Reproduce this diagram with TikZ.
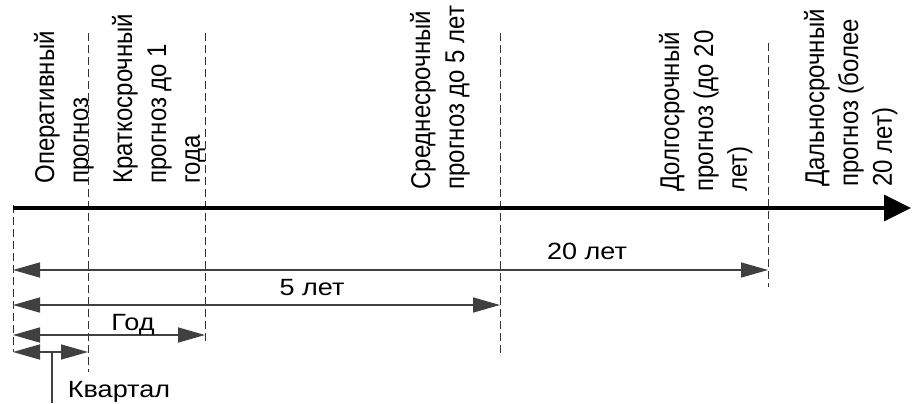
\documentclass[tikz,border=0pt]{standalone}
\usepackage{fontspec}
\setmainfont{Liberation Sans}
\usetikzlibrary{arrows.meta}
% wide lettering: labels are stretched across the picture's horizontal
\newcommand{\widetag}[1]{\scalebox{1.15}[1]{#1}}
\newcommand{\widekind}[1]{\scalebox{1}[1.13]{\begin{tabular}{@{}l@{}}#1\end{tabular}}}
\begin{document}
\begin{tikzpicture}[x=0.5pt,y=-0.5pt,
  guide/.style={draw=black!80,line width=0.5pt,dash pattern=on 4pt off 2pt},
  axisline/.style={draw=black,line width=1.7pt,-{Triangle[length=13.5pt,width=13pt]}},
  span/.style={draw=black!75,line width=0.8pt,
    {Triangle[length=13.5pt,width=7.5pt]}-{Triangle[length=13.5pt,width=7.5pt]}},
  kind/.style={rotate=90,anchor=north west,inner sep=0pt,
    font=\fontsize{12}{15}\selectfont},
  tag/.style={inner sep=0pt,anchor=base,font=\fontsize{11.75}{14}\selectfont}]
\useasboundingbox (0,0) rectangle (912,403);

% vertical guides
\coordinate (g0t) at (13,205);  \coordinate (g0b) at (13,352);
\coordinate (g1t) at (88,33);   \coordinate (g1b) at (88,372);
\coordinate (g2t) at (205,33);  \coordinate (g2b) at (205,342);
\coordinate (g3t) at (500,33);  \coordinate (g3b) at (500,355);
\coordinate (g4t) at (768,43);  \coordinate (g4b) at (768,287);
\foreach \g in {0,...,4} \draw[guide] (g\g t) -- (g\g b);

% time axis
\coordinate (ax0) at (13,208);
\coordinate (ax1) at (911,208);
\draw[axisline] (ax0) -- (ax1);

% forecast kinds
\node[kind] (k1) at (30,184) {\widekind{Оперативный\\прогноз}};
\node[kind] (k2) at (108,184) {\widekind{Краткосрочный\\прогноз до 1\\года}};
\node[kind] (k3) at (406,190) {\widekind{Среднесрочный\\прогноз до 5 лет}};
\node[kind] (k4) at (655,192) {\widekind{Долгосрочный\\прогноз (до 20\\лет)}};
\node[kind] (k5) at (800,187) {\widekind{Дальносрочный\\прогноз (более\\20 лет)}};

% horizons
\coordinate (a20l) at (13,270);  \coordinate (a20r) at (768,270);
\coordinate (a5l) at (13,305);   \coordinate (a5r) at (500,305);
\coordinate (a1l) at (13,335);   \coordinate (a1r) at (205,335);
\coordinate (aql) at (13,352);   \coordinate (aqr) at (88,352);
\draw[span] (a20l) -- (a20r);
\draw[span] (a5l) -- (a5r);
\draw[span] (a1l) -- (a1r);
\draw[span] (aql) -- (aqr);

\node[tag] (t20) at (587,259) {\widetag{20 лет}};
\node[tag] (t5) at (312,295) {\widetag{5 лет}};
\node[tag] (t1) at (133,330) {\widetag{Год}};

% quarter callout
\coordinate (qa) at (52,352);
\coordinate (qb) at (52,403);
\draw[draw=black!75,line width=0.8pt] (qa) -- (qb);
\node[tag] (tq) at (119,397) {\widetag{Квартал}};
\end{tikzpicture}
\end{document}
